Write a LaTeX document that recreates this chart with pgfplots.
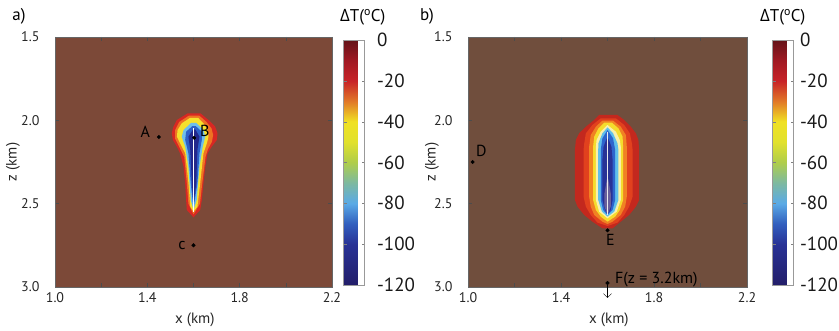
\documentclass[border=0pt]{standalone}
\usepackage{fontspec}
\setmainfont{PT Sans}
\newfontfamily\gfont{Open Sans}
\usepackage{pgfplots}
\usetikzlibrary{arrows.meta}
\pgfplotsset{compat=1.18}
\definecolor{bgA}{RGB}{124,73,56}
\definecolor{bgB}{RGB}{112,78,61}
% panel a fills
\definecolor{aRed}{RGB}{215,40,35}
\definecolor{aOra}{RGB}{238,115,35}
\definecolor{aYel}{RGB}{245,225,45}
\definecolor{aLbl}{RGB}{110,190,235}
\definecolor{aBlu}{RGB}{45,95,200}
\definecolor{aDbl}{RGB}{35,40,140}
% panel b fills
\definecolor{bRed}{RGB}{195,40,30}
\definecolor{bRor}{RGB}{225,65,30}
\definecolor{bOra}{RGB}{240,130,35}
\definecolor{bYel}{RGB}{245,220,45}
\definecolor{bPal}{RGB}{250,240,170}
\definecolor{bCya}{RGB}{95,190,235}
\definecolor{bBlu}{RGB}{45,100,205}
\definecolor{bDbl}{RGB}{40,50,150}
\definecolor{bCor}{RGB}{105,95,155}
\pgfplotsset{
  colormap={dT}{rgb255(0cm)=(35,30,105); rgb255(2cm)=(40,50,150); rgb255(3cm)=(50,95,190);
    rgb255(4cm)=(90,170,230); rgb255(5cm)=(125,185,160); rgb255(6cm)=(175,205,75);
    rgb255(7cm)=(225,225,45); rgb255(8cm)=(240,225,35); rgb255(9cm)=(225,120,40);
    rgb255(10cm)=(200,35,40); rgb255(11cm)=(160,25,35); rgb255(12cm)=(100,20,25)},
  panel/.style={
    scale only axis, height=250pt,
    xmin=1.0, xmax=2.2, ymin=1.5, ymax=3.0, y dir=reverse,
    xtick={1.0,1.2,1.4,1.6,1.8,2.0,2.2},
    xticklabels={1.0,,1.4,,1.8,,2.2},
    ytick={1.5,2.0,2.5,3.0}, yticklabels={1.5,2.0,2.5,3.0},
    tick align=inside, major tick length=4pt, tick style={black!70, thin},
    ticklabel style={font=\fontsize{14}{14}\selectfont, text=black!85},
    yticklabel style={xshift=-12pt},
    xticklabel style={yshift=-2pt},
    axis line style={black!60, thin},
    xlabel={\fontsize{15}{15}\selectfont x (km)}, ylabel={\fontsize{15}{15}\selectfont z (km)},
    every axis x label/.style={at={(axis description cs:0.505,-0.132)}, anchor=center, text=black!85},
    clip=false,
    colormap name=dT, colorbar, point meta min=-120, point meta max=0,
  },
  cbar/.style 2 args={
    colorbar style={
      at={(parent axis.north east)}, anchor=north west, xshift=#1, yshift=-3pt,
      scale only axis, width=21pt, height=245pt,
      ytick={-120,-100,-80,-60,-40,-20,0},
      yticklabels={-120,-100,-80,-60,-40,-20,0},
      yticklabel style={font=\fontsize{19}{19}\selectfont, xshift=#2, text=black!90},
      major tick length=3pt, tick align=inside, tick style={black!50},
      axis line style={black!40},
    }
  },
  ylab/.style={every axis y label/.style={at={(axis description cs:#1,0.5)}, rotate=90, anchor=center, text=black!85}},
}
\begin{document}
\begin{tikzpicture}
\useasboundingbox (0,0) rectangle (839pt,331pt);
\node[font=\fontsize{17}{17}\selectfont] at (19pt,315pt) {a)};
\node[font=\fontsize{17}{17}\selectfont] at (427pt,315pt) {b)};
\node[font=\fontsize{17}{17}\selectfont, anchor=west, inner sep=0pt] at (340pt,314pt) {{\gfont Δ}T(\textsuperscript{o}C)};
\node[font=\fontsize{17}{17}\selectfont, anchor=west, inner sep=0pt] at (760pt,314pt) {{\gfont Δ}T(\textsuperscript{o}C)};

% ---------------- panel a ----------------
\begin{axis}[panel, cbar={3pt}{9pt}, ylab=-0.152, at={(55pt,44pt)}, anchor=south west, width=277pt,
  axis background/.style={fill=bgA}]
\addplot[fill=aRed, draw=none] coordinates {(1.575,1.958) (1.63,1.958) (1.665,1.998) (1.694,2.038) (1.704,2.078) (1.701,2.118) (1.679,2.158) (1.661,2.198) (1.651,2.278) (1.643,2.378) (1.636,2.478) (1.629,2.538) (1.6,2.582) (1.571,2.538) (1.568,2.478) (1.564,2.378) (1.557,2.278) (1.542,2.198) (1.528,2.158) (1.511,2.118) (1.506,2.078) (1.513,2.038) (1.528,1.998)} -- cycle;
\addplot[fill=aOra, draw=none] coordinates {(1.58,1.972) (1.625,1.972) (1.655,2.008) (1.678,2.048) (1.685,2.088) (1.68,2.128) (1.662,2.175) (1.652,2.22) (1.638,2.378) (1.628,2.5) (1.6,2.565) (1.578,2.5) (1.571,2.378) (1.56,2.22) (1.535,2.15) (1.52,2.108) (1.52,2.06) (1.538,2.01)} -- cycle;
\addplot[fill=aYel, draw=none] coordinates {(1.585,1.985) (1.62,1.985) (1.643,2.018) (1.661,2.058) (1.665,2.098) (1.658,2.138) (1.643,2.198) (1.629,2.378) (1.617,2.518) (1.6,2.548) (1.586,2.518) (1.578,2.378) (1.564,2.198) (1.542,2.138) (1.528,2.098) (1.531,2.058) (1.549,2.018)} -- cycle;
\addplot[fill=aLbl, draw=none] coordinates {(1.59,2.015) (1.612,2.015) (1.643,2.058) (1.651,2.098) (1.640,2.158) (1.626,2.278) (1.614,2.478) (1.6,2.538) (1.588,2.478) (1.578,2.278) (1.564,2.158) (1.549,2.098) (1.557,2.058)} -- cycle;
\addplot[fill=aBlu, draw=none] coordinates {(1.595,2.035) (1.61,2.035) (1.636,2.068) (1.636,2.118) (1.626,2.198) (1.617,2.378) (1.6,2.528) (1.588,2.378) (1.578,2.198) (1.564,2.118) (1.568,2.068)} -- cycle;
\addplot[fill=aDbl, draw=none] coordinates {(1.598,2.055) (1.608,2.055) (1.626,2.098) (1.617,2.178) (1.612,2.378) (1.6,2.508) (1.593,2.378) (1.586,2.178) (1.578,2.098)} -- cycle;
\addplot[white, line width=0.7pt] coordinates {(1.6,2.048) (1.6,2.548)};
\addplot[only marks, mark=*, mark size=1.8pt, black] coordinates {(1.45,2.1) (1.603,2.105) (1.6,2.75)};
\node[anchor=east, inner sep=0pt, font=\fontsize{16}{16}\selectfont] at (axis cs:1.412,2.07) {A};
\node[anchor=west, inner sep=0pt, font=\fontsize{16}{16}\selectfont] at (axis cs:1.628,2.066) {B};
\node[anchor=east, inner sep=0pt, font=\fontsize{16}{16}\selectfont] at (axis cs:1.567,2.75) {c};
\end{axis}

% ---------------- panel b ----------------
\begin{axis}[panel, cbar={17pt}{3pt}, ylab=-0.129, at={(468pt,44pt)}, anchor=south west, width=279pt,
  axis background/.style={fill=bgB}]
\addplot[fill=bRed, draw=none] coordinates {(1.564,1.968) (1.643,1.968) (1.672,1.998) (1.700,2.038) (1.722,2.078) (1.733,2.118) (1.736,2.178) (1.736,2.478) (1.722,2.518) (1.693,2.568) (1.657,2.608) (1.622,2.648) (1.578,2.648) (1.535,2.608) (1.500,2.568) (1.471,2.518) (1.460,2.478) (1.460,2.178) (1.464,2.118) (1.478,2.078) (1.507,2.038) (1.543,1.998)} -- cycle;
\addplot[fill=bRor, draw=none] coordinates {(1.571,1.988) (1.636,1.988) (1.672,2.028) (1.696,2.078) (1.705,2.138) (1.708,2.178) (1.708,2.458) (1.693,2.518) (1.672,2.568) (1.643,2.614) (1.6,2.634) (1.557,2.614) (1.528,2.568) (1.507,2.518) (1.497,2.458) (1.497,2.178) (1.500,2.138) (1.507,2.078) (1.535,2.028)} -- cycle;
\addplot[fill=bOra, draw=none] coordinates {(1.578,2.002) (1.624,2.002) (1.657,2.038) (1.679,2.088) (1.683,2.158) (1.683,2.458) (1.676,2.518) (1.657,2.568) (1.622,2.608) (1.6,2.622) (1.578,2.608) (1.543,2.568) (1.528,2.518) (1.521,2.458) (1.521,2.158) (1.528,2.088) (1.550,2.038)} -- cycle;
\addplot[fill=bYel, draw=none] coordinates {(1.586,2.014) (1.619,2.014) (1.647,2.048) (1.665,2.098) (1.667,2.158) (1.667,2.478) (1.653,2.538) (1.633,2.578) (1.6,2.608) (1.571,2.578) (1.550,2.538) (1.538,2.478) (1.538,2.158) (1.543,2.098) (1.561,2.048)} -- cycle;
\addplot[fill=bPal, draw=none] coordinates {(1.6,2.028) (1.636,2.068) (1.653,2.118) (1.657,2.158) (1.657,2.478) (1.640,2.548) (1.6,2.588) (1.564,2.548) (1.550,2.478) (1.550,2.158) (1.553,2.118) (1.571,2.068)} -- cycle;
\addplot[fill=bCya, draw=none] coordinates {(1.6,2.042) (1.624,2.078) (1.643,2.138) (1.647,2.178) (1.647,2.478) (1.629,2.548) (1.6,2.578) (1.576,2.548) (1.560,2.478) (1.560,2.178) (1.561,2.138) (1.578,2.078)} -- cycle;
\addplot[fill=bBlu, draw=none] coordinates {(1.6,2.058) (1.624,2.108) (1.633,2.178) (1.633,2.478) (1.622,2.538) (1.6,2.568) (1.581,2.538) (1.571,2.478) (1.571,2.178) (1.578,2.108)} -- cycle;
\addplot[fill=bDbl, draw=none] coordinates {(1.6,2.098) (1.617,2.158) (1.622,2.238) (1.622,2.478) (1.614,2.538) (1.6,2.562) (1.589,2.538) (1.578,2.478) (1.578,2.238) (1.583,2.158)} -- cycle;
\addplot[fill=bCor, draw=none] coordinates {(1.6,2.34) (1.604,2.358) (1.614,2.438) (1.614,2.518) (1.6,2.568) (1.587,2.518) (1.587,2.438) (1.597,2.358)} -- cycle;
\addplot[white!85!gray, line width=0.7pt] coordinates {(1.6,2.068) (1.6,2.568)};
\addplot[only marks, mark=*, mark size=1.8pt, black] coordinates {(1.02,2.25) (1.6,2.66) (1.6,2.976)};
\draw[-{Straight Barb[length=4pt,width=8pt]}, thin, black] (axis cs:1.6,2.99) -- (axis cs:1.6,3.065);
\node[anchor=west, inner sep=0pt, font=\fontsize{16}{16}\selectfont] at (axis cs:1.034,2.184) {D};
\node[anchor=center, inner sep=0pt, font=\fontsize{16}{16}\selectfont] at (axis cs:1.612,2.718) {E};
\node[anchor=west, inner sep=0pt, font=\fontsize{16}{16}\selectfont] at (axis cs:1.632,2.955) {F(z = 3.2km)};
\end{axis}
\end{tikzpicture}
\end{document}
